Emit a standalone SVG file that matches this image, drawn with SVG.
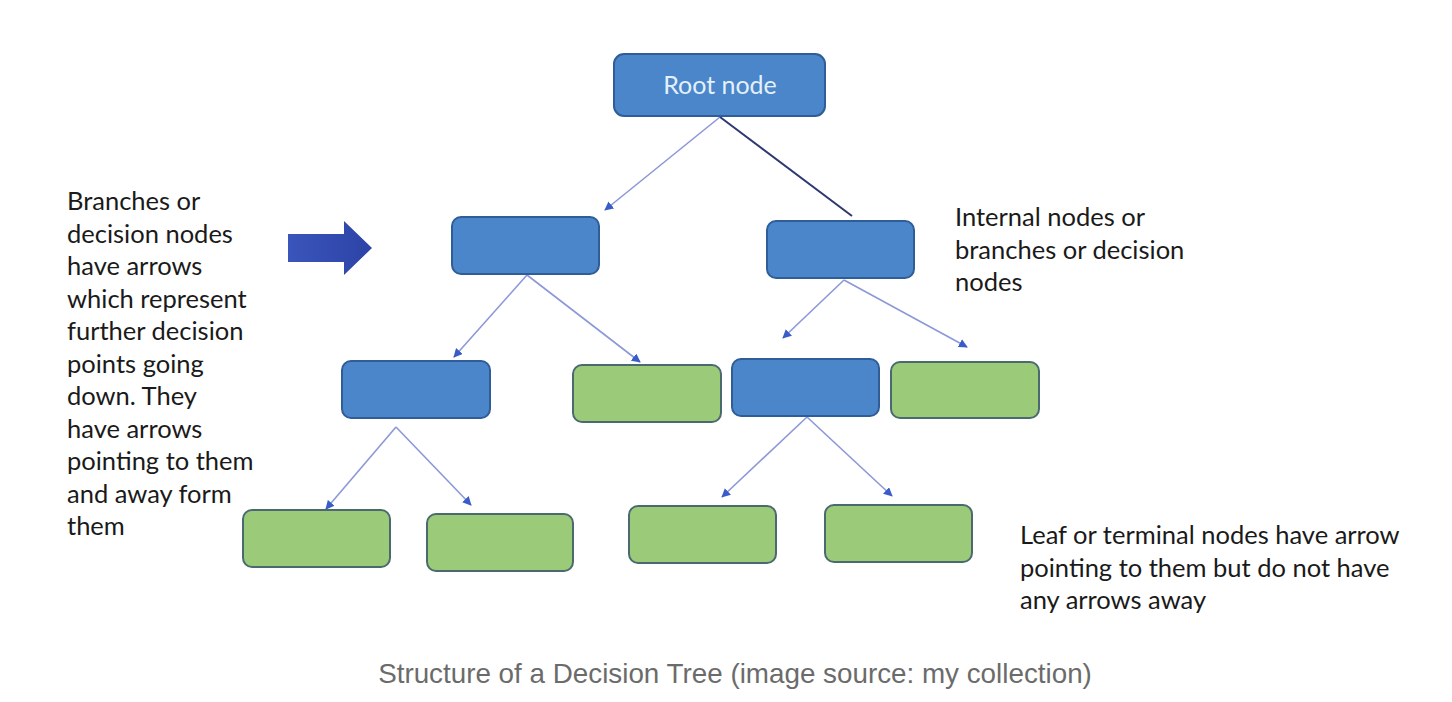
<svg xmlns="http://www.w3.org/2000/svg" width="1452" height="702" viewBox="0 0 1452 702">
<style>
.blue{fill:#4a86c9;stroke:#2f5d97;stroke-width:2}
.green{fill:#9bcb78;stroke:#4b6a70;stroke-width:2}
.lnk{stroke:#8c98d8;stroke-width:1.6;fill:none;marker-end:url(#ah)}
.dark{stroke:#2e3870;stroke-width:2;fill:none}
.t{font-family:Lato,"Noto Sans",sans-serif;font-size:25.5px;fill:#1a1a1a}
.cap{font-family:"Liberation Sans",Arial,sans-serif;font-size:27.8px;fill:#6b6b6b}
</style>
<defs>
<marker id="ah" viewBox="0 0 10 10" refX="9" refY="5" markerWidth="9" markerHeight="9" markerUnits="userSpaceOnUse" orient="auto">
<path d="M0,0 L10,5 L0,10 z" fill="#3a5cc8"/>
</marker>
<linearGradient id="bg" x1="0" y1="0" x2="1" y2="0">
<stop offset="0" stop-color="#3a55bb"/>
<stop offset="1" stop-color="#2d43a6"/>
</linearGradient>
</defs>
<rect width="1452" height="702" fill="#ffffff"/>
<g id="connectors">
<line class="lnk" x1="720" y1="117" x2="605" y2="210"/>
<line class="dark" x1="720" y1="117" x2="852" y2="216"/>
<line class="lnk" x1="527" y1="275" x2="454" y2="357"/>
<line class="lnk" x1="527" y1="275" x2="640" y2="362"/>
<line class="lnk" x1="844" y1="280" x2="783" y2="338"/>
<line class="lnk" x1="844" y1="280" x2="967" y2="347"/>
<line class="lnk" x1="396" y1="427" x2="326" y2="509"/>
<line class="lnk" x1="396" y1="427" x2="471" y2="505"/>
<line class="lnk" x1="807" y1="417" x2="722" y2="497"/>
<line class="lnk" x1="807" y1="417" x2="892" y2="496"/>
</g>
<g id="root">
<rect class="blue" x="614" y="54" width="211" height="62" rx="10"/>
<text x="720" y="94" text-anchor="middle" style="font-family:Lato,'Noto Sans',sans-serif;font-size:25px;fill:#e4f0fb">Root node</text>
</g>
<g id="n1"><rect class="blue" x="452" y="217" width="147" height="57" rx="9"/></g>
<g id="n2"><rect class="blue" x="767" y="221" width="147" height="57" rx="9"/></g>
<g id="n3"><rect class="blue" x="342" y="361" width="148" height="57" rx="9"/></g>
<g id="n4"><rect class="green" x="573" y="365" width="148" height="57" rx="9"/></g>
<g id="n5"><rect class="blue" x="732" y="359" width="147" height="57" rx="9"/></g>
<g id="n6"><rect class="green" x="891" y="362" width="148" height="56" rx="9"/></g>
<g id="n7"><rect class="green" x="243" y="510" width="147" height="57" rx="9"/></g>
<g id="n8"><rect class="green" x="427" y="514" width="146" height="57" rx="9"/></g>
<g id="n9"><rect class="green" x="629" y="506" width="147" height="57" rx="9"/></g>
<g id="n10"><rect class="green" x="825" y="505" width="147" height="57" rx="9"/></g>
<g id="bigarrow">
<path d="M288,234 L344,234 L344,221 L372,248 L344,275 L344,262 L288,262 z" fill="url(#bg)"/>
</g>
<g id="leftnote">
<text class="t">
<tspan x="67" y="210">Branches or</tspan>
<tspan x="67" y="242.5">decision nodes</tspan>
<tspan x="67" y="275">have arrows</tspan>
<tspan x="67" y="307.5">which represent</tspan>
<tspan x="67" y="340">further decision</tspan>
<tspan x="67" y="372.5">points going</tspan>
<tspan x="67" y="405">down. They</tspan>
<tspan x="67" y="437.5">have arrows</tspan>
<tspan x="67" y="470">pointing to them</tspan>
<tspan x="67" y="502.5">and away form</tspan>
<tspan x="67" y="535">them</tspan>
</text>
</g>
<g id="rightnote">
<text class="t">
<tspan x="955" y="226">Internal nodes or</tspan>
<tspan x="955" y="258.5">branches or decision</tspan>
<tspan x="955" y="291">nodes</tspan>
</text>
</g>
<g id="leafnote">
<text class="t">
<tspan x="1020" y="544">Leaf or terminal nodes have arrow</tspan>
<tspan x="1020" y="576.5">pointing to them but do not have</tspan>
<tspan x="1020" y="609">any arrows away</tspan>
</text>
</g>
<text class="cap" x="735" y="683" text-anchor="middle">Structure of a Decision Tree (image source: my collection)</text>
</svg>
